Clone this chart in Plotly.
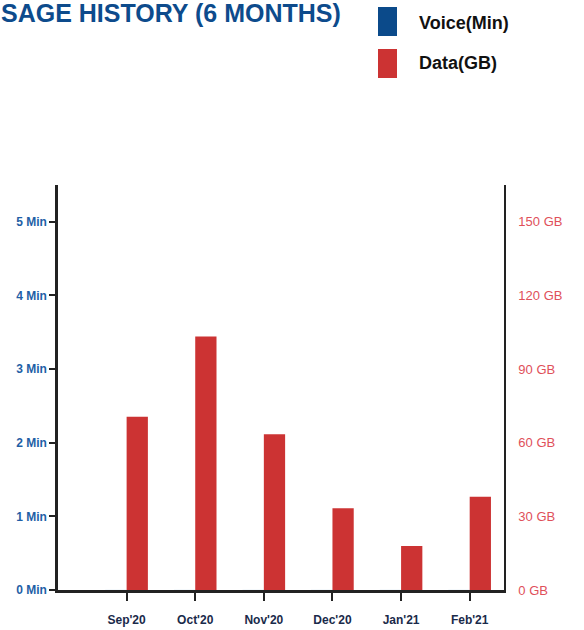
import plotly.graph_objects as go

months = ["Sep'20", "Oct'20", "Nov'20", "Dec'20", "Jan'21", "Feb'21"]
voice_min = [0, 0, 0, 0, 0, 0]
data_gb = [70.6, 103.3, 63.5, 33.3, 17.9, 38.0]

left_tickvals = [0, 1, 2, 3, 4, 5]
left_ticktext = ["0 Min", "1 Min", "2 Min", "3 Min", "4 Min", "5 Min"]
right_tickvals = [0, 30, 60, 90, 120, 150]
right_ticktext = ["0 GB", "30 GB", "60 GB", "90 GB", "120 GB", "150 GB"]

title_text = "SAGE HISTORY (6 MONTHS)"
legend_names = ["Voice(Min)", "Data(GB)"]

BLUE = "#0b4a8a"
RED = "#cc3333"
W, H = 584, 630
ML, MR, MT, MB = 58, 80, 185, 40
PW, PH = W - ML - MR, H - MT - MB


def px(x):
    return (x - ML) / PW


def py(y):
    return (H - MB - y) / PH


xidx = list(range(len(months)))

fig = go.Figure()
fig.add_trace(go.Bar(x=xidx, y=voice_min, name=legend_names[0], marker_color=BLUE,
                     width=0.31, offset=-0.31, yaxis="y", showlegend=False))
fig.add_trace(go.Bar(x=xidx, y=data_gb, name=legend_names[1], marker_color=RED,
                     width=0.31, offset=0.0, yaxis="y2", showlegend=False,
                     marker_line_width=0))

font = "Liberation Sans"
fig.update_layout(
    width=W, height=H,
    margin=dict(l=ML, r=MR, t=MT, b=MB, autoexpand=False),
    plot_bgcolor="white", paper_bgcolor="white",
    xaxis=dict(range=[-1.0, 5.5], tickvals=xidx, ticktext=months,
               showline=True, linecolor="#222222", linewidth=3,
               ticks="outside", ticklen=8, tickwidth=2, tickcolor="#222222",
               ticklabelstandoff=9,
               tickfont=dict(family=font, size=12, color="#1a2a4a", weight="bold"),
               showgrid=False, zeroline=False, fixedrange=True),
    yaxis=dict(range=[0, 5.5], tickvals=left_tickvals, ticktext=left_ticktext,
               showline=True, linecolor="#222222", linewidth=2.5,
               ticks="outside", ticklen=6, tickwidth=2, tickcolor="#222222",
               tickfont=dict(family=font, size=12, color="#1f5fa6", weight="bold"),
               showgrid=False, zeroline=False),
    yaxis2=dict(range=[0, 165], tickvals=right_tickvals, ticktext=right_ticktext,
                overlaying="y", side="right",
                showline=True, linecolor="#222222", linewidth=1.5,
                ticks="", ticklabelstandoff=10,
                tickfont=dict(family=font, size=13, color="#e0505a"),
                showgrid=False, zeroline=False),
    bargap=0.38,
    showlegend=False,
)

# title (top-left)
fig.add_annotation(text=title_text, xref="paper", yref="paper",
                   x=px(-1), y=py(13), xanchor="left", yanchor="middle",
                   showarrow=False,
                   font=dict(family=font, size=25, color="#0d4b8c", weight="bold"))

# custom legend
swatches = [(BLUE, 7, 36, 23), (RED, 49, 78, 63)]
for (col, y0, y1, ty), name in zip(swatches, legend_names):
    fig.add_shape(type="rect", xref="paper", yref="paper",
                  x0=px(378), x1=px(397), y0=py(y1), y1=py(y0),
                  fillcolor=col, line_width=0)
    fig.add_annotation(text=name, xref="paper", yref="paper",
                       x=px(417), y=py(ty), xanchor="left", yanchor="middle",
                       showarrow=False,
                       font=dict(family=font, size=18, color="#111111", weight="bold"))

fig.write_html("out.html", config={"displayModeBar": False},
               post_script="document.body.style.margin='0';")
